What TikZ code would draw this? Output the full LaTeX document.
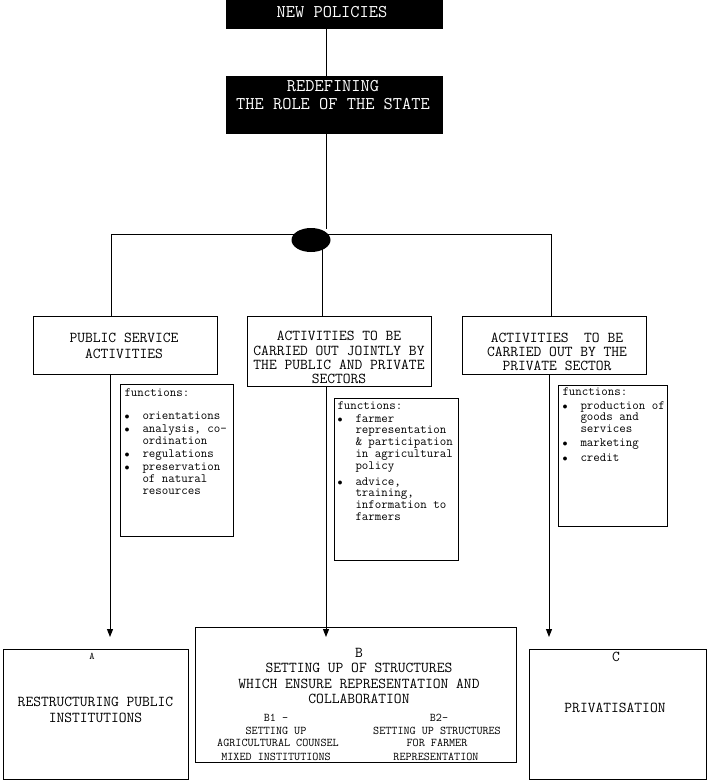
\documentclass[tikz,border=0pt]{standalone}
\usetikzlibrary{arrows.meta,shapes.geometric}
\begin{document}
\begin{tikzpicture}[x=1pt,y=-1pt,line width=1pt,
  blackbox/.style={fill=black, draw=black, inner sep=0pt},
  whitebox/.style={draw=black, inner sep=0pt},
  headtxt/.style={font=\ttfamily\fontsize{17.9}{18.5}\selectfont, text=white, align=center, inner sep=0pt},
  boxtxt/.style={font=\ttfamily\fontsize{15.1}{14.2}\selectfont, align=center, inner sep=0pt},
  listtxt/.style={font=\ttfamily\fontsize{12.6}{11.8}\selectfont, align=left, anchor=north west, inner sep=0pt},
  subtxt/.style={font=\ttfamily\fontsize{11.8}{12}\selectfont, inner sep=0pt},
  arr/.style={-{Triangle[length=8pt,width=6pt]}}]
\useasboundingbox (0,0) rectangle (709,784);
\newcommand{\bul}{\makebox[18pt][l]{\fontsize{10}{10}\selectfont$\bullet$}}
\newcommand{\ind}{\hspace*{18pt}}
% top of the chart
\node [blackbox, minimum width=216, minimum height=28] (newpol) at (334,15) {};
\node [headtxt] (newpoltxt) at (332,12) {NEW POLICIES};
\node [blackbox, minimum width=216, minimum height=57] (redef) at (334,104.5) {};
\node [headtxt] (redeftxt) at (333,95) {REDEFINING\\THE ROLE OF THE STATE};
\coordinate (hubtop) at (326,229);
\draw (newpol.south -| hubtop) -- (redef.north -| hubtop);
\draw (redef.south -| hubtop) -- (hubtop);
% the three kinds of activities
\node [whitebox, minimum width=184, minimum height=58] (pub) at (125,345) {};
\node [whitebox, minimum width=184, minimum height=70] (joint) at (339,351) {};
\node [whitebox, minimum width=184, minimum height=58] (priv) at (554,345) {};
\node [boxtxt] (pubtxt) at (124,346) {PUBLIC SERVICE\\[2.3pt]ACTIVITIES};
\node [boxtxt] (jointtxt) at (339,357.5) {ACTIVITIES TO BE\\CARRIED OUT JOINTLY BY\\THE PUBLIC AND PRIVATE\\SECTORS};
\node [boxtxt] (privtxt) at (557,352) {ACTIVITIES\ \ TO BE\\CARRIED OUT BY THE\\PRIVATE SECTOR};
\coordinate (busl) at (111,234);
\coordinate (busm) at (322,234);
\coordinate (busr) at (551,234);
\draw (busl |- pub.north) -- (busl) -- (busr) -- (busr |- priv.north);
\draw (busm) -- (busm |- joint.north);
\node [ellipse, fill=black, minimum width=39, minimum height=24, inner sep=0pt] (hub) at (311,240) {};
% functions
\node [whitebox, minimum width=113, minimum height=152] (fpub) at (176.5,460.5) {};
\node [whitebox, minimum width=124, minimum height=162] (fjoint) at (396,479) {};
\node [whitebox, minimum width=109, minimum height=141] (fpriv) at (612.5,455.5) {};
\node [listtxt] (fpubtxt) at (124,388) {functions:\\[11pt]
  \bul orientations\\[1.5pt]
  \bul analysis, co-\\\ind ordination\\[1.5pt]
  \bul regulations\\[1.5pt]
  \bul preservation\\\ind of natural\\\ind resources};
\node [listtxt] (fjointtxt) at (337,401) {functions:\\[1pt]
  \bul farmer\\\ind representation\\\ind \& participation\\\ind in agricultural\\\ind policy\\[4pt]
  \bul advice,\\\ind training,\\\ind information to\\\ind farmers};
\node [listtxt] (fprivtxt) at (562,387) {functions:\\[2pt]
  \bul production of\\\ind goods and\\\ind services\\[2.5pt]
  \bul marketing\\[2.5pt]
  \bul credit};
% results
\node [whitebox, minimum width=185, minimum height=130] (resA) at (95.5,714.5) {};
\node [whitebox, minimum width=321, minimum height=135] (resB) at (355.5,694.5) {};
\node [whitebox, minimum width=177, minimum height=130] (resC) at (617.5,714.5) {};
\coordinate (tipA) at (110,637);
\coordinate (tipB) at (326,637);
\coordinate (tipC) at (549,637);
\draw [arr] (tipA |- pub.south) -- (tipA);
\draw [arr] (tipB |- joint.south) -- (tipB);
\draw [arr] (tipC |- priv.south) -- (tipC);
\node [subtxt, font=\ttfamily\fontsize{10}{12}\selectfont] (lblA) at (92,656.5) {A};
\node [boxtxt, font=\ttfamily\fontsize{15.1}{16}\selectfont] (txtA) at (95.5,709.5) {RESTRUCTURING PUBLIC\\INSTITUTIONS};
\node [boxtxt, font=\ttfamily\fontsize{15.1}{15.3}\selectfont] (txtB) at (359,676) {B\\SETTING UP OF STRUCTURES\\WHICH ENSURE REPRESENTATION AND\\COLLABORATION};
\node [subtxt] (bonea) at (276,718) {B1 -};
\node [subtxt] (boneb) at (276,730.5) {SETTING UP};
\node [subtxt] (bonec) at (278,742.5) {AGRICULTURAL COUNSEL};
\node [subtxt] (boned) at (276,756.5) {MIXED INSTITUTIONS};
\node [subtxt] (btwoa) at (439,718) {B2-};
\node [subtxt] (btwob) at (437,730.5) {SETTING UP STRUCTURES};
\node [subtxt] (btwoc) at (437,742.5) {FOR FARMER};
\node [subtxt] (btwod) at (436,756.5) {REPRESENTATION};
\node [boxtxt] (lblC) at (616,657) {C};
\node [boxtxt] (txtC) at (615,707.5) {PRIVATISATION};
\end{tikzpicture}
\end{document}
